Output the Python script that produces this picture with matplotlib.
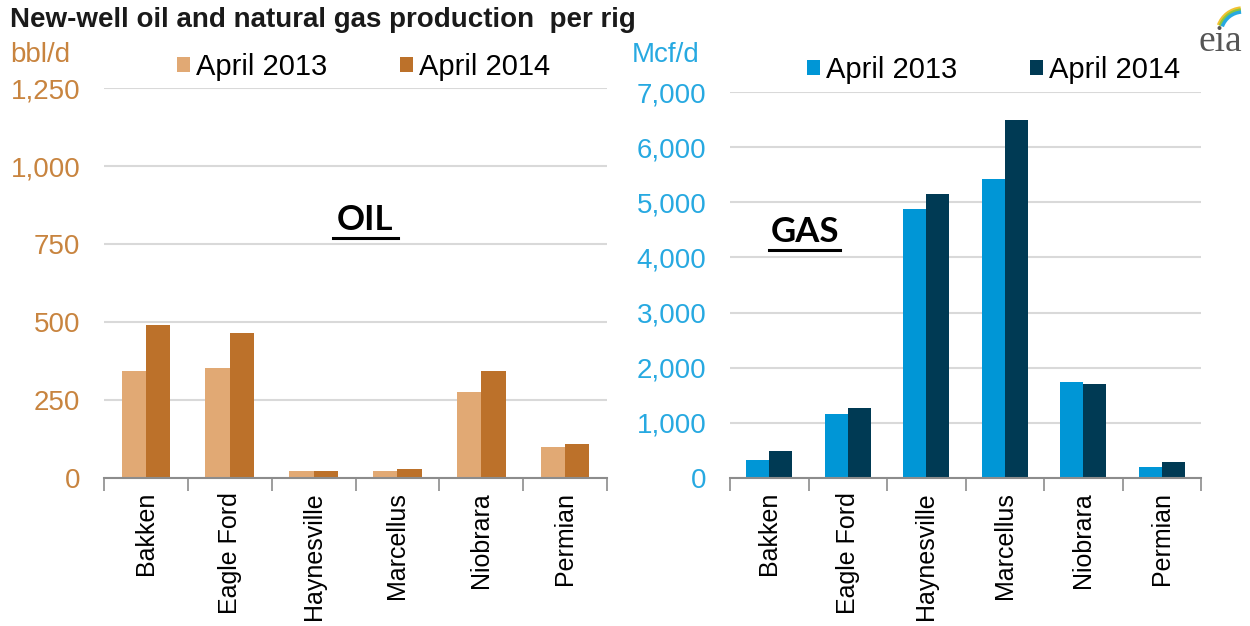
import matplotlib
matplotlib.use("Agg")
import matplotlib.pyplot as plt
import numpy as np
from matplotlib.patches import Patch, Arc
from matplotlib.lines import Line2D

plt.rcParams['font.family'] = ['Liberation Sans', 'DejaVu Sans']

categories = ["Bakken", "Eagle Ford", "Haynesville", "Marcellus", "Niobrara", "Permian"]
series_names = ["April 2013", "April 2014"]
oil_2013 = [344, 351, 22, 22, 275, 100]
oil_2014 = [491, 464, 22, 30, 344, 108]
gas_2013 = [321, 1157, 4874, 5424, 1750, 200]
gas_2014 = [485, 1278, 5152, 6495, 1707, 285]
oil_ticks = [0, 250, 500, 750, 1000, 1250]
gas_ticks = [0, 1000, 2000, 3000, 4000, 5000, 6000, 7000]

oil_colors = ["#E1A974", "#BC712A"]
gas_colors = ["#0096D6", "#003A54"]
oil_tick_color = "#C8843F"
gas_tick_color = "#27A9E1"

W, H = 1250, 626
fig = plt.figure(figsize=(12.5, 6.26), dpi=100)

def fx(px):
    return px / W

def fy(py):
    return 1 - py / H

def make_axes(left, right, top, bottom, data, colors, ticks, tick_color, ymax):
    ax = fig.add_axes([fx(left), fy(bottom), fx(right - left), (bottom - top) / H])
    x = np.arange(len(categories))
    bw = 0.29
    ax.bar(x - bw / 2, data[0], width=bw, color=colors[0], label=series_names[0])
    ax.bar(x + bw / 2, data[1], width=bw, color=colors[1], label=series_names[1])
    ax.set_xlim(-0.5, len(categories) - 0.5)
    ax.set_ylim(0, ymax)
    ax.set_yticks(ticks)
    ax.set_yticklabels([f"{t:,}" for t in ticks], color=tick_color, fontsize=20)
    ax.tick_params(axis='y', length=0, pad=17)
    ax.set_xticks(x)
    ax.set_xticklabels(categories, rotation=90, fontsize=18, va='top')
    ax.tick_params(axis='x', which='major', length=0, pad=10)
    ax.set_xticks(np.arange(-0.5, len(categories)), minor=True)
    ax.tick_params(axis='x', which='minor', length=9, width=1.2, color="#8C8C8C")
    ax.grid(axis='y', color="#D9D9D9", linewidth=1.5)
    ax.set_axisbelow(True)
    for s in ['top', 'right', 'left']:
        ax.spines[s].set_visible(False)
    ax.spines['bottom'].set_color("#8C8C8C")
    ax.spines['bottom'].set_linewidth(1.5)
    return ax

ax1 = make_axes(104, 607, 88, 478, [oil_2013, oil_2014], oil_colors, oil_ticks, oil_tick_color, 1250)
ax2 = make_axes(730, 1201, 92, 478, [gas_2013, gas_2014], gas_colors, gas_ticks, gas_tick_color, 7000)

# legends
for ax, colors, xpos, ypos in [(ax1, oil_colors, 177, 67), (ax2, gas_colors, 807, 70)]:
    handles = [Patch(facecolor=c, edgecolor='none') for c in colors]
    ax.legend(handles, series_names, loc='center left', bbox_to_anchor=(fx(xpos), fy(ypos)),
              bbox_transform=fig.transFigure, ncol=2, frameon=False, fontsize=21,
              handlelength=0.45, handleheight=0.45, handletextpad=0.2,
              columnspacing=2.5, borderpad=0, borderaxespad=0)

# title and units
fig.text(fx(10), fy(20), "New-well oil and natural gas production  per rig", fontsize=20,
         fontweight='bold', color="#1a1a1a", va='center', ha='left')
fig.text(fx(10), fy(55), "bbl/d", fontsize=20, color=oil_tick_color, va='center', ha='left')
fig.text(fx(632), fy(55), "Mcf/d", fontsize=20, color=gas_tick_color, va='center', ha='left')

# OIL / GAS labels with underline
for label, cx, cy, x0, x1, uy in [("OIL", 365, 220, 333, 398, 238), ("GAS", 805, 232, 769, 840, 250)]:
    fig.text(fx(cx), fy(cy), label, fontsize=25, fontweight='bold', color='black',
             family=['Lato', 'DejaVu Sans'], ha='center', va='center')
    fig.add_artist(Line2D([fx(x0), fx(x1)], [fy(uy), fy(uy)], color='black', linewidth=2.2,
                          transform=fig.transFigure))

# eia logo
fig.text(fx(1220), fy(42), "eia", fontsize=27, family=['Liberation Serif', 'DejaVu Serif'],
         color="#555555", ha='center', va='center')
logo_ax = fig.add_axes([fx(1195), fy(34), fx(55), 30 / H])
logo_ax.set_xlim(0, 55)
logo_ax.set_ylim(0, 30)
logo_ax.axis('off')
for r, c in [(26, "#F2C230"), (24, "#8CC63F"), (22, "#27A9E1")]:
    logo_ax.add_patch(Arc((48, 0), 2 * r, 2 * r, theta1=95, theta2=160, color=c, linewidth=2.5))

fig.savefig("out.png", dpi=100)
